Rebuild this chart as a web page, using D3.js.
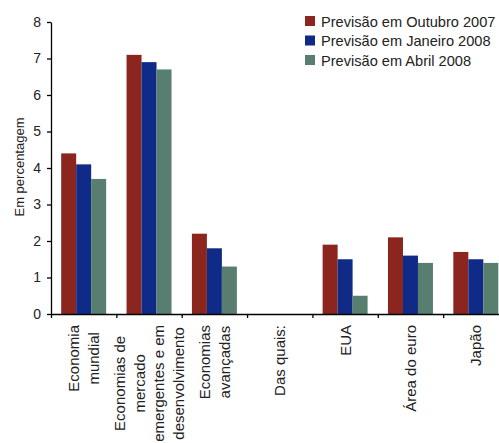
<!DOCTYPE html>
<meta charset="utf-8">
<style>
body { margin: 0; background: #fff; }
svg { display: block; font-family: "Liberation Sans", Arial, sans-serif; }
.axis text { fill: #222; font-size: 14px; }
.axis path, .axis line { stroke: #000; stroke-width: 1.3; }
</style>
<body>
<script src="https://cdn.jsdelivr.net/npm/d3@7"></script>
<script>

// data
var categories = ["Economia mundial", "Economias de mercado emergentes e em desenvolvimento",
  "Economias avançadas", "Das quais:", "EUA", "Área do euro", "Japão"];
var categoryLines = [
  ["Economia", "mundial"],
  ["Economias de", "mercado", "emergentes e em", "desenvolvimento"],
  ["Economias", "avançadas"],
  ["Das quais:"],
  ["EUA"],
  ["Área do euro"],
  ["Japão"]
];
var series = ["Previsão em Outubro 2007", "Previsão em Janeiro 2008", "Previsão em Abril 2008"];
var outubro2007 = [4.4, 7.1, 2.2, null, 1.9, 2.1, 1.7];
var janeiro2008 = [4.1, 6.9, 1.8, null, 1.5, 1.6, 1.5];
var abril2008   = [3.7, 6.7, 1.3, null, 0.5, 1.4, 1.4];
var yTicks = [0, 1, 2, 3, 4, 5, 6, 7, 8];
var colors = ["#8b251e", "#0f2a87", "#587e6f"];

var values = [outubro2007, janeiro2008, abril2008];

var W = 499, H = 443;
var plotLeft = 51, plotRight = 508.5, plotTop = 22, plotBottom = 314;

var svg = d3.select("body").append("svg")
    .attr("width", W)
    .attr("height", H);

var x0 = d3.scaleBand().domain(categories).range([plotLeft, plotRight]).padding(0);
var x1 = d3.scaleBand().domain(series).range([0, x0.bandwidth()])
    .paddingInner(0).paddingOuter(0.68);
var y = d3.scaleLinear().domain([0, 8]).range([plotBottom, plotTop]);
var xIdx = d3.scaleLinear().domain([0, categories.length]).range([plotLeft, plotRight]);

// bars
categories.forEach(function(c, i) {
  series.forEach(function(s, j) {
    var v = values[j][i];
    if (v == null) return;
    svg.append("rect")
        .attr("x", x0(c) + x1(s))
        .attr("y", y(v))
        .attr("width", x1.bandwidth())
        .attr("height", y(0) - y(v))
        .attr("fill", colors[j]);
  });
});

// y axis
svg.append("g")
    .attr("class", "axis")
    .attr("transform", "translate(" + plotLeft + ",0)")
    .call(d3.axisLeft(y).tickValues(yTicks).tickSize(4).tickSizeOuter(0).tickPadding(6));

// x axis: ticks at category boundaries
svg.append("g")
    .attr("class", "axis")
    .attr("transform", "translate(0," + plotBottom + ")")
    .call(d3.axisBottom(xIdx).tickValues(d3.range(categories.length + 1))
      .tickFormat("").tickSize(4).tickSizeOuter(0));

// category labels, rotated, lines centred within a block aligned at the top
categories.forEach(function(c, i) {
  var lines = categoryLines[i];
  var g = svg.append("g")
      .attr("transform", "translate(" + (x0(c) + x0.bandwidth() / 2) + ",325) rotate(-90)");
  var t = g.append("text")
      .attr("text-anchor", "middle")
      .style("font-size", "15px")
      .attr("fill", "#222");
  var lh = 19.5;
  lines.forEach(function(l, k) {
    t.append("tspan")
        .attr("x", 0)
        .attr("y", (k - (lines.length - 1) / 2) * lh + 5.5)
        .text(l);
  });
  var maxLen = d3.max(t.selectAll("tspan").nodes(), function(n) { return n.getComputedTextLength(); });
  t.selectAll("tspan").attr("x", -maxLen / 2);
});

// y axis title
svg.append("text")
    .attr("transform", "translate(24,167) rotate(-90)")
    .attr("text-anchor", "middle")
    .style("font-size", "13px")
    .attr("fill", "#222")
    .text("Em percentagem");

// legend
var legend = svg.append("g").attr("transform", "translate(305,16)");
series.forEach(function(s, j) {
  legend.append("rect")
      .attr("x", 0)
      .attr("y", j * 19.5)
      .attr("width", 10)
      .attr("height", 10)
      .attr("fill", colors[j]);
  legend.append("text")
      .attr("x", 16)
      .attr("y", j * 19.5 + 10.5)
      .style("font-size", "14.6px")
      .attr("fill", "#222")
      .text(s);
});

</script>
</body>
